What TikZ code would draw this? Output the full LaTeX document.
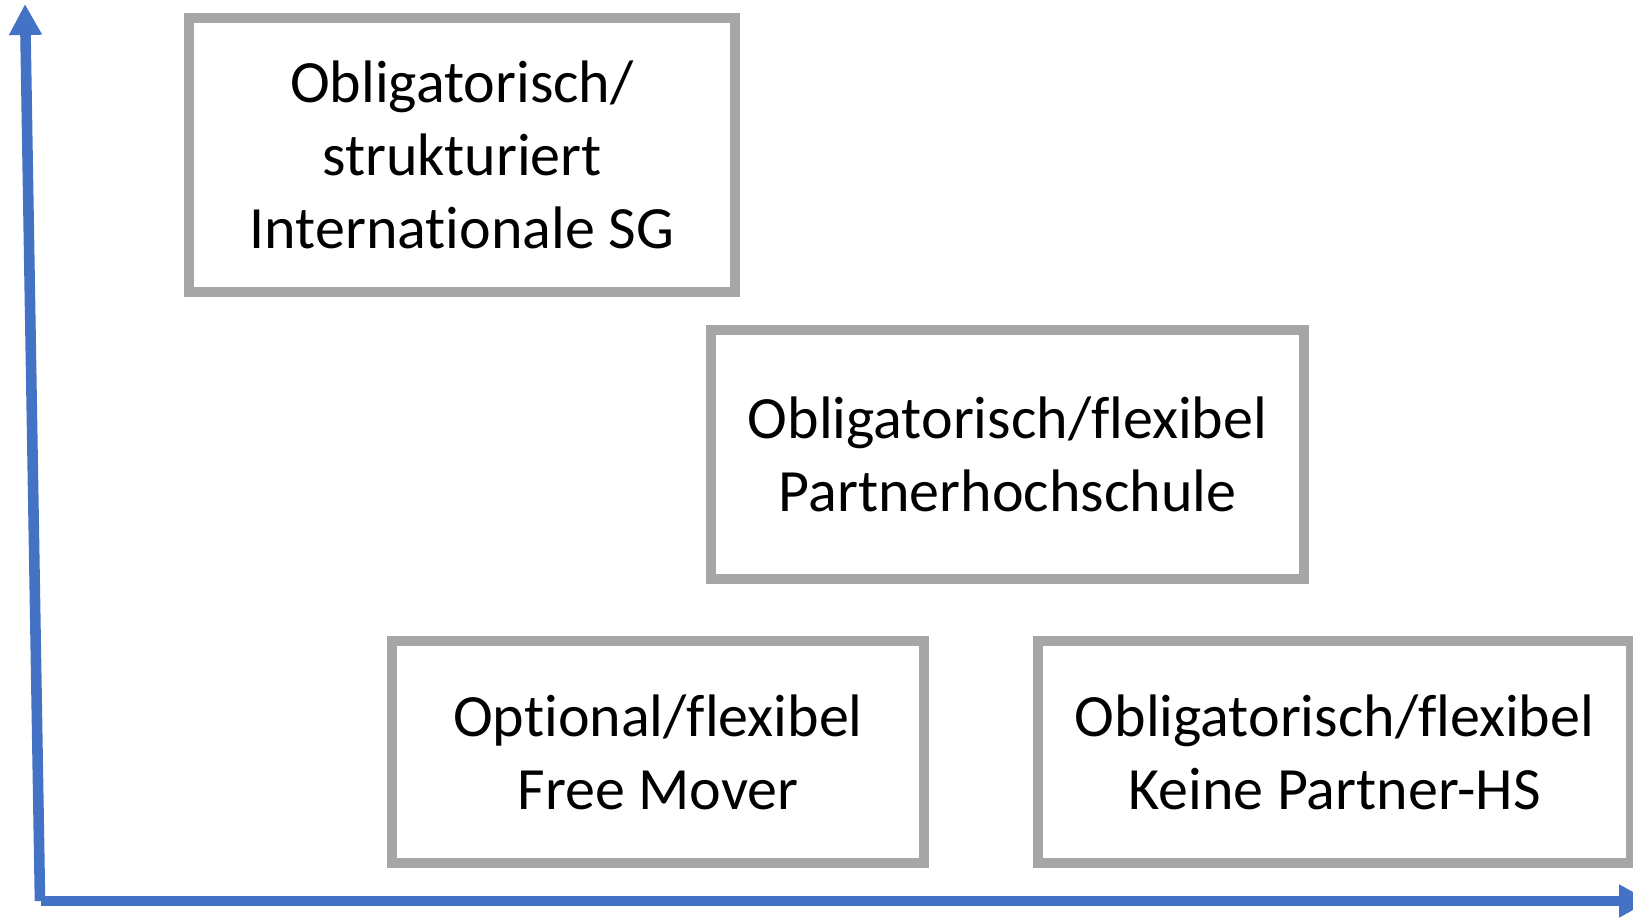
\documentclass[tikz,border=0pt]{standalone}
\usepackage{fontspec}
\setmainfont{Carlito}[Ligatures={NoCommon}]
\usepackage{tikz}
\usetikzlibrary{arrows.meta}
\definecolor{boxgray}{HTML}{A6A6A6}
\definecolor{axisblue}{HTML}{4472C4}

\begin{document}
\begin{tikzpicture}[x=0.5pt, y=-0.5pt]
\tikzstyle{box}=[rectangle, draw=boxgray, line width=5pt, align=center, inner sep=0pt,
                 font=\fontsize{30}{36.5}\selectfont]
\tikzstyle{wide}=[box, minimum width=296.5pt]
\tikzstyle{axis}=[draw=axisblue, line width=5.3pt, -{Triangle[width=15.5pt, length=15.5pt]}]

  \useasboundingbox (0,0) rectangle (1633,919);

  % axes
  \coordinate (origin) at (40,901);
  \coordinate (ytip)   at (25,4);
  \coordinate (xtip)   at (1650,901);
  \path (origin) edge [axis] (ytip);
  \path ([xshift=0.5pt]origin) edge [axis] (xtip);

  % boxes
  \node[box, minimum width=273pt, minimum height=137pt] (intl) at (462,155)
    {Obligatorisch/\\strukturiert\\Internationale SG};
  \node[wide, minimum height=124.5pt] (partner) at (1007.5,454.5)
    {Obligatorisch/flexibel\\Partnerhochschule};
  \node[box, minimum width=266pt, minimum height=111pt] (free) at (658,752)
    {Optional/flexibel\\Free Mover};
  \node[wide, minimum height=111pt] (nopartner) at (1334.5,752)
    {Obligatorisch/flexibel\\Keine Partner-HS};

\end{tikzpicture}
\end{document}
